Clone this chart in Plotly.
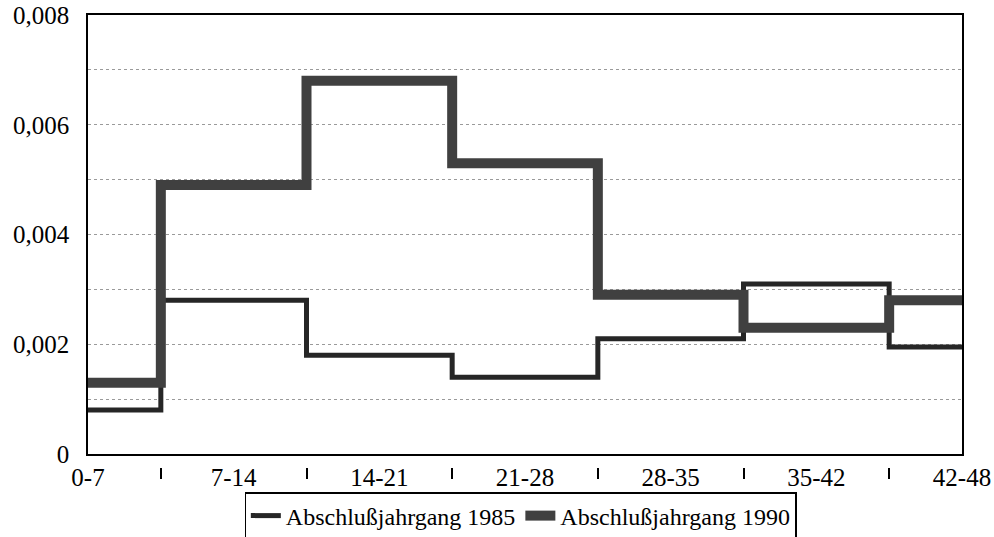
import plotly.graph_objects as go

categories = ["0-7", "7-14", "14-21", "21-28", "28-35", "35-42", "42-48"]
values_1985 = [0.0008, 0.0028, 0.0018, 0.0014, 0.0021, 0.0031, 0.00195]
values_1990 = [0.0013, 0.0049, 0.0068, 0.0053, 0.0029, 0.0023, 0.0028]
y_tick_values = [0, 0.001, 0.002, 0.003, 0.004, 0.005, 0.006, 0.007, 0.008]
y_tick_labels = ["0", "", "0,002", "", "0,004", "", "0,006", "", "0,008"]
series_names = ["Abschlußjahrgang 1985", "Abschlußjahrgang 1990"]

positions = list(range(len(categories)))
between = [i + 0.5 for i in range(len(categories) - 1)]

FONT = "Liberation Serif"

fig = go.Figure()
fig.add_trace(go.Scatter(
    x=positions, y=values_1985, mode="lines", name=series_names[0],
    line=dict(shape="hvh", color="#262626", width=5),
    hoverinfo="skip",
))
fig.add_trace(go.Scatter(
    x=positions, y=values_1990, mode="lines", name=series_names[1],
    line=dict(shape="hvh", color="#404040", width=10),
    hoverinfo="skip",
))
# helper trace to carry the secondary axis used for between-category tick marks
fig.add_trace(go.Scatter(
    x=positions, y=values_1990, mode="lines", xaxis="x2", yaxis="y",
    line=dict(width=0, color="rgba(0,0,0,0)"), showlegend=False, hoverinfo="skip",
))

W, H = 994, 537
M_L, M_R, M_T, M_B = 88, 32, 15, 70
plot_h = H - M_T - M_B
fig.update_layout(
    width=W, height=H,
    margin=dict(l=M_L, r=M_R, t=M_T, b=M_B, autoexpand=False),
    paper_bgcolor="white", plot_bgcolor="white",
    font=dict(family=FONT, size=25, color="black"),
    showlegend=True,
    legend=dict(
        orientation="h", x=0.495, xanchor="center", y=-0.056, yanchor="top",
        bordercolor="black", borderwidth=1.2, bgcolor="white",
        font=dict(family=FONT, size=24, color="black"),
        itemwidth=30, tracegroupgap=0,
    ),
    xaxis=dict(
        range=[0, 6], tickmode="array", tickvals=positions, ticktext=categories,
        ticks="", showgrid=False, zeroline=False, automargin=False,
        showline=True, linecolor="black", linewidth=1.5, mirror=True,
        ticklabelstandoff=0, ticklabeloverflow="allow", anchor="y",
    ),
    xaxis2=dict(
        overlaying="x", matches="x", anchor="free", position=0, automargin=False,
        tickmode="array", tickvals=between, ticktext=[""] * len(between),
        ticks="outside", ticklen=11, tickwidth=2, tickcolor="black",
        showline=False, showgrid=False, zeroline=False, showticklabels=False,
    ),
    yaxis=dict(
        domain=[13 / plot_h, 1], range=[0, 0.008], automargin=False,
        tickmode="array", tickvals=y_tick_values, ticktext=y_tick_labels,
        ticks="", showgrid=True, gridcolor="#9a9a9a", griddash="dot", gridwidth=1,
        zeroline=False, showline=True, linecolor="black", linewidth=1.5, mirror=True,
        ticklabelstandoff=12, ticklabeloverflow="allow",
    ),
)

fig.write_html(
    "out.html",
    config={"displayModeBar": False},
    post_script="document.body.style.margin='0';document.body.style.padding='0';",
)
